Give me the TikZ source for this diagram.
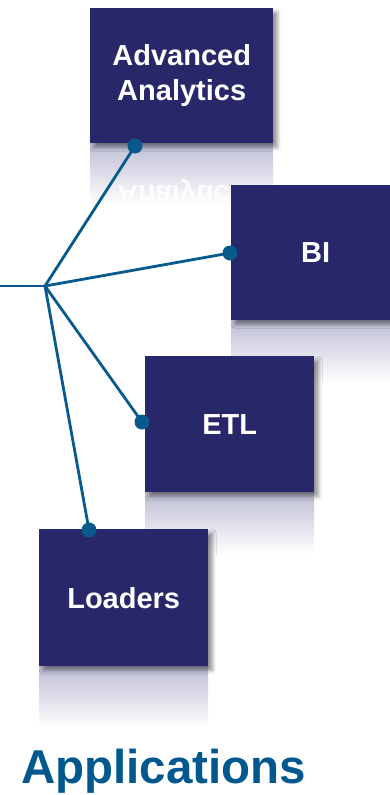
\documentclass[tikz,border=0pt]{standalone}
\usepackage{fontspec}
\setmainfont{Liberation Sans}
\usetikzlibrary{shadows.blur}
\definecolor{boxblue}{RGB}{39,39,106}
\definecolor{linkblue}{RGB}{8,90,140}
\definecolor{titleblue}{RGB}{0,88,142}
\definecolor{mist}{RGB}{190,190,214}

\begin{document}
\begin{tikzpicture}[x=1pt,y=-1pt,
  tile/.style={fill=boxblue, draw=none, anchor=north west, inner sep=0pt,
    minimum width=169pt, minimum height=136pt, align=center, text=white,
    font=\bfseries\fontsize{29}{35}\selectfont,
    blur shadow={shadow xshift=4pt, shadow yshift=-4pt, shadow blur radius=4pt, shadow opacity=45}},
  mirror/.style={top color=mist, bottom color=white, draw=none},
  link/.style={draw=linkblue, line width=2.8pt},
  knob/.style={circle, fill=linkblue, minimum size=15pt, inner sep=0pt}]
  \path[use as bounding box] (0,0) rectangle (390,795);
  \clip (0,0) rectangle (390,795);

  % soft reflections under each tile
  \begin{scope}
    \clip (90,143) rectangle (273,205);
    \fill[mirror] (90,143) rectangle (273,205);
    \begin{scope}[shift={(181.5,193)}]
      \node[yscale=-1, text=white, opacity=0.85, inner sep=0pt,
        font=\bfseries\fontsize{29}{35}\selectfont] (aaecho) at (0,0) {Analytics};
    \end{scope}
  \end{scope}
  \fill[mirror] (231,320) rectangle (400,382);
  \fill[mirror] (145,492) rectangle (314,554);
  \fill[mirror] (39,666) rectangle (208,728);

  % tiles
  \node[tile, minimum width=183pt, minimum height=135pt] (aa) at (90,8) {Advanced\\Analytics};
  \node[tile, minimum height=135pt] (bi) at (231,185) {BI};
  \node[tile] (etl) at (145,356) {ETL};
  \node[tile, minimum height=137pt] (ld) at (39,529) {Loaders};

  % connector tree
  \coordinate (feed) at (0,286);
  \coordinate (hub) at (45,286);
  \coordinate (pAA) at (135,146);
  \coordinate (pBI) at (230,253);
  \coordinate (pETL) at (142,422);
  \coordinate (pLD) at (89,530);
  \draw[link] (feed) -- (hub);
  \draw[link] (hub) -- (pAA);
  \draw[link] (hub) -- (pBI);
  \draw[link] (hub) -- (pETL);
  \draw[link] (hub) -- (pLD);
  \node[knob] (kAA) at (pAA) {};
  \node[knob] (kBI) at (pBI) {};
  \node[knob] (kETL) at (pETL) {};
  \node[knob] (kLD) at (pLD) {};

  % caption
  \node[anchor=base west, inner sep=0pt, text=titleblue,
    font=\bfseries\fontsize{47.5}{55}\selectfont] (title) at (21,783) {Applications};
\end{tikzpicture}
\end{document}
